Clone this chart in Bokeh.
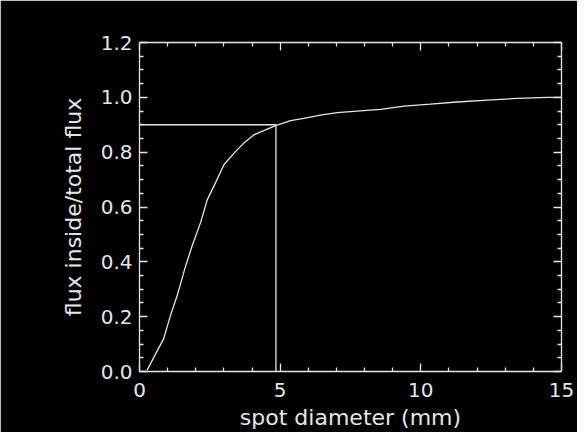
from bokeh.plotting import figure
from bokeh.models import Range1d, LinearAxis, FixedTicker, CustomJSTickFormatter
from bokeh.embed import file_html
from bokeh.resources import INLINE

# curve: encircled flux fraction vs spot diameter
diam = [0.27, 0.86, 1.10, 1.34, 1.64, 1.87, 2.17, 2.41, 2.70, 3.00, 3.41, 3.71,
        4.06, 4.54, 4.86, 5.37, 5.84, 6.43, 7.03, 7.74, 8.57, 9.40, 10.34,
        11.29, 12.36, 13.43, 14.50, 15.0]
frac = [0.005, 0.12, 0.204, 0.277, 0.385, 0.458, 0.543, 0.627, 0.688, 0.754,
        0.802, 0.833, 0.863, 0.884, 0.898, 0.915, 0.923, 0.935, 0.944, 0.950,
        0.956, 0.968, 0.975, 0.983, 0.990, 0.996, 1.0, 1.0]

level = 0.9       # 90% flux level
d_level = 4.85    # diameter enclosing 90%

x_ticks = [0, 5, 10, 15]
x_minor = [1, 2, 3, 4, 6, 7, 8, 9, 11, 12, 13, 14]
y_ticks = [0.0, 0.2, 0.4, 0.6, 0.8, 1.0, 1.2]
y_minor = [0.05, 0.1, 0.15, 0.25, 0.3, 0.35, 0.45, 0.5, 0.55, 0.65, 0.7, 0.75,
           0.85, 0.9, 0.95, 1.05, 1.1, 1.15]
x_title = "spot diameter (mm)"
y_title = "flux inside/total flux"

FG = "#e6e6e6"
FONT = "DejaVu Sans"

p = figure(width=577, height=432, output_backend="svg", toolbar_location=None,
           x_range=Range1d(0, 15), y_range=Range1d(0, 1.2),
           background_fill_color="black", border_fill_color="black",
           min_border_left=139, min_border_right=16, min_border_top=42,
           min_border_bottom=59)
p.outline_line_color = None
p.xgrid.visible = False
p.ygrid.visible = False

def style(ax):
    ax.axis_line_color = FG
    ax.axis_line_width = 1.3
    ax.major_tick_line_color = FG
    ax.minor_tick_line_color = FG
    ax.major_tick_line_width = 1.3
    ax.minor_tick_line_width = 1.3
    ax.major_tick_in = 8
    ax.major_tick_out = 0
    ax.minor_tick_in = 4
    ax.minor_tick_out = 0
    ax.major_label_text_color = FG
    ax.major_label_text_font = FONT
    ax.major_label_text_font_size = "20px"
    ax.axis_label_text_color = FG
    ax.axis_label_text_font = FONT
    ax.axis_label_text_font_size = "22px"
    ax.axis_label_text_font_style = "normal"

p.xaxis.ticker = FixedTicker(ticks=x_ticks, minor_ticks=x_minor)
p.yaxis.ticker = FixedTicker(ticks=y_ticks, minor_ticks=y_minor)
p.xaxis.axis_label = x_title
p.yaxis.axis_label = y_title
p.yaxis.formatter = CustomJSTickFormatter(code="return tick.toFixed(1);")
for ax in p.xaxis:
    style(ax)
    ax.major_label_standoff = 11
    ax.axis_label_standoff = 5
for ax in p.yaxis:
    style(ax)
    ax.major_label_standoff = 7
    ax.axis_label_standoff = 12

blank = CustomJSTickFormatter(code="return '';")
top = LinearAxis(ticker=FixedTicker(ticks=x_ticks, minor_ticks=x_minor), formatter=blank)
right = LinearAxis(ticker=FixedTicker(ticks=y_ticks, minor_ticks=y_minor), formatter=blank)
for ax in (top, right):
    style(ax)
    ax.major_label_standoff = 0
p.add_layout(top, "above")
p.add_layout(right, "right")

p.line(diam, frac, line_color=FG, line_width=1.3)
p.line([0, d_level], [level, level], line_color=FG, line_width=1.3)
p.line([d_level, d_level], [0, level], line_color=FG, line_width=1.3)

open("out.html", "w").write(file_html(p, INLINE))
